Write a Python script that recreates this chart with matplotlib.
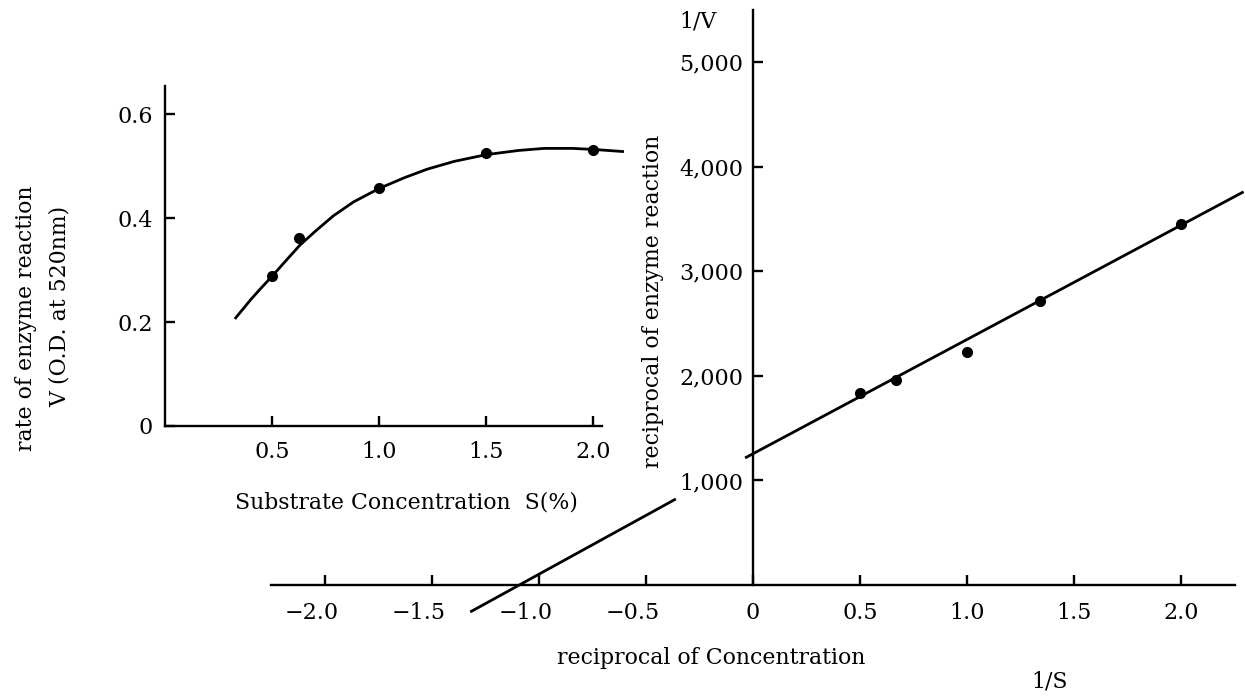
import matplotlib
matplotlib.use("Agg")
import matplotlib.pyplot as plt
import matplotlib.transforms as mtransforms

# ---------------- data ----------------
# Inset: substrate concentration vs. rate
s_points = [0.5, 0.626, 1.0, 1.5, 2.0]
v_points = [0.288, 0.362, 0.458, 0.525, 0.531]
s_curve = [0.33, 0.40, 0.45, 0.50, 0.56, 0.63, 0.70, 0.785, 0.88, 1.00, 1.12, 1.224,
           1.35, 1.50, 1.65, 1.77, 1.90, 2.00, 2.136]
v_curve = [0.208, 0.243, 0.266, 0.288, 0.316, 0.348, 0.374, 0.404, 0.431, 0.457, 0.478, 0.494,
           0.509, 0.522, 0.530, 0.534, 0.534, 0.532, 0.528]
inset_xticks = [0.5, 1.0, 1.5, 2.0]
inset_xticklabels = ["0.5", "1.0", "1.5", "2.0"]
inset_yticks = [0, 0.2, 0.4, 0.6]
inset_yticklabels = ["0", "0.2", "0.4", "0.6"]

# Main: Lineweaver-Burk plot
inv_s_points = [0.5, 0.667, 1.0, 1.34, 2.0]
inv_v_points = [1837, 1962, 2230, 2718, 3455]
line_left_x = [-1.32, -0.36]
line_left_y = [-258, 823]
line_right_x = [-0.037, 2.29]
line_right_y = [1215, 3761]
main_xticks = [-2.0, -1.5, -1.0, -0.5, 0, 0.5, 1.0, 1.5, 2.0]
main_xticklabels = ["\u22122.0", "\u22121.5", "\u22121.0", "\u22120.5", "0", "0.5", "1.0", "1.5", "2.0"]
main_yticks = [1000, 2000, 3000, 4000, 5000]
main_yticklabels = ["1,000", "2,000", "3,000", "4,000", "5,000"]

# ---------------- figure ----------------
W, H = 1245, 700
plt.rcParams["font.family"] = ["DejaVu Serif"]
FS_TICK = 16
FS_LAB = 15.8
fig = plt.figure(figsize=(W / 100, H / 100), dpi=100)
fig.patch.set_facecolor("white")


def px_rect(x0, x1, ytop, ybot):
    return [x0 / W, (H - ybot) / H, (x1 - x0) / W, (ybot - ytop) / H]


LW = 1.7
# main axes
ax = fig.add_axes(px_rect(271, 1235, 10, 585))
ax.set_facecolor("none")
ax.set_xlim(-2.25, 2.25)
ax.set_ylim(0, 5500)
ax.spines["top"].set_visible(False)
ax.spines["right"].set_visible(False)
ax.spines["left"].set_position(("data", 0))
for sp in ("left", "bottom"):
    ax.spines[sp].set_linewidth(LW)
ax.set_xticks(main_xticks)
ax.set_xticklabels(main_xticklabels, fontsize=FS_TICK)
ax.set_yticks(main_yticks)
ax.set_yticklabels(main_yticklabels, fontsize=FS_TICK)
ax.tick_params(axis="x", direction="in", length=7, width=LW, pad=12)
ax.tick_params(axis="y", direction="in", length=7, width=LW, pad=7)
# numeric part of negative labels sits under the tick, minus sign hangs left
for lab, val in zip(ax.get_xticklabels(), main_xticks):
    if val < 0:
        lab.set_transform(lab.get_transform() +
                          mtransforms.ScaledTranslation(-0.13, 0, fig.dpi_scale_trans))

ax.plot(line_left_x, line_left_y, color="black", lw=2.0, clip_on=False,
        solid_capstyle="butt")
ax.plot(line_right_x, line_right_y, color="black", lw=2.0, clip_on=False,
        solid_capstyle="butt")
ax.plot(inv_s_points, inv_v_points, "o", color="black", ms=7, clip_on=False)

# inset axes
ai = fig.add_axes(px_rect(165, 602, 86, 426))
ai.set_facecolor("none")
ai.set_xlim(0, 2.04)
ai.set_ylim(0, 0.654)
ai.spines["top"].set_visible(False)
ai.spines["right"].set_visible(False)
for sp in ("left", "bottom"):
    ai.spines[sp].set_linewidth(LW)
ai.set_xticks(inset_xticks)
ai.set_xticklabels(inset_xticklabels, fontsize=FS_TICK)
ai.set_yticks(inset_yticks)
ai.set_yticklabels(inset_yticklabels, fontsize=FS_TICK)
ai.tick_params(axis="x", direction="in", length=7, width=LW, pad=11)
ai.tick_params(axis="y", direction="in", length=7, width=LW, pad=8.5)
ai.plot(s_curve, v_curve, color="black", lw=2.0, clip_on=False,
        solid_joinstyle="round")
ai.plot(s_points, v_points, "o", color="black", ms=7, clip_on=False)

# ---------------- texts ----------------
def ftext(x, y, s, **kw):
    fig.text(x / W, 1 - y / H, s, fontsize=FS_LAB, ha="center", va="center", **kw)


ftext(26, 318, "rate of enzyme reaction", rotation=90)
ftext(60, 306, "V (O.D. at 520nm)", rotation=90)
ftext(406, 502, "Substrate Concentration  S(%)")
ftext(653, 301, "reciprocal of enzyme reaction", rotation=90)
ftext(698, 22, "1/V")
ftext(711, 658, "reciprocal of Concentration")
ftext(1050, 682, "1/S")

fig.savefig("out.png", dpi=100, facecolor="white")
